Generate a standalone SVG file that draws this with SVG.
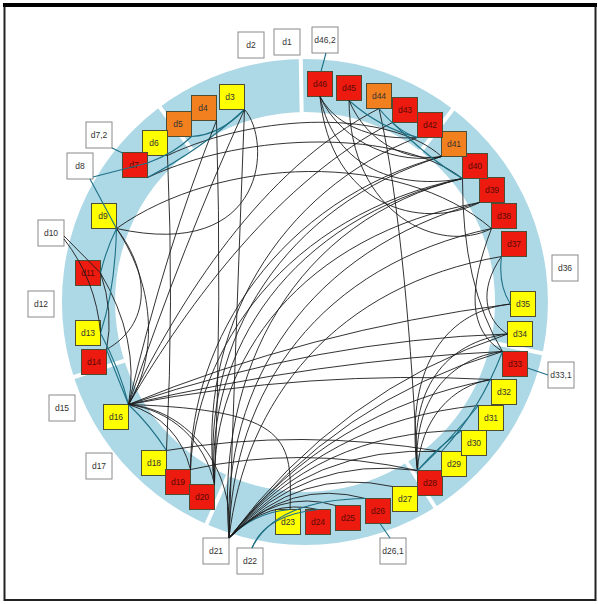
<svg xmlns="http://www.w3.org/2000/svg" width="598" height="604" viewBox="0 0 598 604">
<style>
  .e{fill:none;stroke:#1c1c1c;stroke-width:0.9}
  .tl{fill:none;stroke:#1e7185;stroke-width:1.1}
  .div{stroke:#fff;stroke-width:4}
  .n rect{stroke:#4d4d33;stroke-width:1}
  .y rect{fill:#ffff00}
  .r rect{fill:#ec1a0f}
  .o rect{fill:#f3801f}
  .lb rect{fill:#fff;stroke:#8a8a8a;stroke-width:1}
  text{font-family:"Liberation Sans",Arial,sans-serif;font-size:8.5px;fill:#333;text-anchor:middle}
  .r text{fill:#5a0a05}
</style>
<rect width="598" height="604" fill="#fff"/>
<!-- frame -->
<rect x="4.5" y="5" width="591" height="595" fill="none" stroke="#222" stroke-width="2"/>
<line x1="3" y1="5" x2="597" y2="5" stroke="#000" stroke-width="4"/>

<!-- ring with sector gaps -->
<g id="ring">
  <path d="M305,59 A243,243 0 1,1 304.9,59 Z M305,112 A190,190 0 1,0 305.1,112 Z" fill="#add8e6" fill-rule="evenodd"/>
  <line class="div" x1="301.7" y1="114" x2="300.7" y2="56"/>
  <line class="div" x1="192.7" y1="151.3" x2="158" y2="104.8"/>
  <line class="div" x1="419.5" y1="152.8" x2="454.8" y2="106.8"/>
  <line class="div" x1="488.8" y1="341.7" x2="545.4" y2="354"/>
  <line class="div" x1="405.7" y1="460.7" x2="436.8" y2="509.7"/>
  <line class="div" x1="228.8" y1="473.9" x2="205.3" y2="526.9"/>
  <line class="div" x1="126.2" y1="360.1" x2="71" y2="378"/>
</g>

<!-- nodes -->
<g id="d3" class="n y"><rect x="219.5" y="84.5" width="25" height="25"/><text x="230" y="100">d3</text></g>
<g id="d4" class="n o"><rect x="191.5" y="95.5" width="25" height="25"/><text x="203" y="111">d4</text></g>
<g id="d5" class="n o"><rect x="166.5" y="111.5" width="25" height="25"/><text x="178" y="127">d5</text></g>
<g id="d6" class="n y"><rect x="142.5" y="130.5" width="25" height="25"/><text x="154" y="146">d6</text></g>
<g id="d7" class="n r"><rect x="122.5" y="152.5" width="25" height="25"/><text x="134" y="168">d7</text></g>
<g id="d9" class="n y"><rect x="91.5" y="203.5" width="25" height="25"/><text x="103" y="219">d9</text></g>
<g id="d11" class="n r"><rect x="75.5" y="260.5" width="25" height="25"/><text x="88" y="276">d11</text></g>
<g id="d13" class="n y"><rect x="75.5" y="320.5" width="25" height="25"/><text x="88" y="336">d13</text></g>
<g id="d14" class="n r"><rect x="81.5" y="349.5" width="25" height="25"/><text x="94" y="365">d14</text></g>
<g id="d16" class="n y"><rect x="103.5" y="404.5" width="25" height="25"/><text x="116" y="420">d16</text></g>
<g id="d18" class="n y"><rect x="141.5" y="450.5" width="25" height="25"/><text x="154" y="466">d18</text></g>
<g id="d19" class="n r"><rect x="165.5" y="469.5" width="25" height="25"/><text x="178" y="485">d19</text></g>
<g id="d20" class="n r"><rect x="189.5" y="484.5" width="25" height="25"/><text x="202" y="500">d20</text></g>
<g id="d23" class="n y"><rect x="275.5" y="509.5" width="25" height="25"/><text x="288" y="525">d23</text></g>
<g id="d24" class="n r"><rect x="305.5" y="509.5" width="25" height="25"/><text x="318" y="525">d24</text></g>
<g id="d25" class="n r"><rect x="335.5" y="505.5" width="25" height="25"/><text x="348" y="521">d25</text></g>
<g id="d26" class="n r"><rect x="365.5" y="498.5" width="25" height="25"/><text x="378" y="514">d26</text></g>
<g id="d27" class="n y"><rect x="392.5" y="486.5" width="25" height="25"/><text x="405" y="502">d27</text></g>
<g id="d28" class="n r"><rect x="417.5" y="470.5" width="25" height="25"/><text x="430" y="486">d28</text></g>
<g id="d29" class="n y"><rect x="441.5" y="451.5" width="25" height="25"/><text x="454" y="467">d29</text></g>
<g id="d30" class="n y"><rect x="461.5" y="430.5" width="25" height="25"/><text x="474" y="446">d30</text></g>
<g id="d31" class="n y"><rect x="478.5" y="405.5" width="25" height="25"/><text x="491" y="421">d31</text></g>
<g id="d32" class="n y"><rect x="491.5" y="379.5" width="25" height="25"/><text x="504" y="395">d32</text></g>
<g id="d33" class="n r"><rect x="502.5" y="351.5" width="25" height="25"/><text x="515" y="367">d33</text></g>
<g id="d34" class="n y"><rect x="507.5" y="321.5" width="25" height="25"/><text x="520" y="337">d34</text></g>
<g id="d35" class="n y"><rect x="510.5" y="291.5" width="25" height="25"/><text x="523" y="307">d35</text></g>
<g id="d37" class="n r"><rect x="501.5" y="231.5" width="25" height="25"/><text x="514" y="247">d37</text></g>
<g id="d38" class="n r"><rect x="491.5" y="203.5" width="25" height="25"/><text x="504" y="219">d38</text></g>
<g id="d39" class="n r"><rect x="479.5" y="177.5" width="25" height="25"/><text x="492" y="193">d39</text></g>
<g id="d40" class="n r"><rect x="462.5" y="153.5" width="25" height="25"/><text x="475" y="169">d40</text></g>
<g id="d41" class="n o"><rect x="441.5" y="131.5" width="25" height="25"/><text x="454" y="147">d41</text></g>
<g id="d42" class="n r"><rect x="417.5" y="112.5" width="25" height="25"/><text x="430" y="128">d42</text></g>
<g id="d43" class="n r"><rect x="392.5" y="97.5" width="25" height="25"/><text x="405" y="113">d43</text></g>
<g id="d44" class="n o"><rect x="366.5" y="83.5" width="25" height="25"/><text x="379" y="99">d44</text></g>
<g id="d45" class="n r"><rect x="336.5" y="75.5" width="25" height="25"/><text x="349" y="91">d45</text></g>
<g id="d46" class="n r"><rect x="307.5" y="71.5" width="25" height="25"/><text x="320" y="87">d46</text></g>

<!-- outer labels -->
<g id="d1" class="lb"><rect x="274" y="29" width="26" height="26"/><text x="287" y="45">d1</text></g>
<g id="d2" class="lb"><rect x="238" y="32" width="26" height="26"/><text x="251" y="48">d2</text></g>
<g id="d46_2" class="lb"><rect x="312" y="27" width="26" height="26"/><text x="325" y="43">d46,2</text></g>
<g id="d7_2" class="lb"><rect x="86" y="122" width="26" height="26"/><text x="99" y="138">d7,2</text></g>
<g id="d8" class="lb"><rect x="67" y="153" width="26" height="26"/><text x="80" y="169">d8</text></g>
<g id="d10" class="lb"><rect x="38" y="220" width="26" height="26"/><text x="51" y="236">d10</text></g>
<g id="d12" class="lb"><rect x="28" y="291" width="26" height="26"/><text x="41" y="307">d12</text></g>
<g id="d15" class="lb"><rect x="49" y="395" width="26" height="26"/><text x="62" y="411">d15</text></g>
<g id="d17" class="lb"><rect x="86" y="453" width="26" height="26"/><text x="99" y="469">d17</text></g>
<g id="d21" class="lb"><rect x="203" y="538" width="26" height="26"/><text x="216" y="554">d21</text></g>
<g id="d22" class="lb"><rect x="237" y="548" width="26" height="26"/><text x="250" y="564">d22</text></g>
<g id="d26_1" class="lb"><rect x="380" y="538" width="26" height="26"/><text x="393" y="554">d26,1</text></g>
<g id="d33_1" class="lb"><rect x="548" y="362" width="26" height="26"/><text x="561" y="378">d33,1</text></g>
<g id="d36" class="lb"><rect x="552" y="255" width="26" height="26"/><text x="565" y="271">d36</text></g>

<!-- connectors -->
<g id="connectors">
  <!-- upper-left sector -->
  <path class="e" d="M244.5,109.5 C272,140 268,262 116.5,228.5"/>
  <path class="e" d="M216.5,120.5 Q222,300 214.5,484.5"/>
  <path class="e" d="M167.5,155.5 Q174,300 166.5,450.5"/>
  <path class="e" d="M244.5,109.5 Q236,330 229,538"/>
  <path class="e" d="M147.5,177.5 C250,130 400,130 462.5,178.5"/>
  <path class="e" d="M116.5,228.5 C220,155 400,150 491.5,228.5"/>
  <path class="e" d="M167.5,155.5 C260,112 390,110 441.5,156.5"/>
  <path class="tl" d="M244.5,109.5 Q200,150 147.5,177.5"/>
  <path class="tl" d="M244.5,109.5 Q220,135 191.5,136.5"/>
  <path class="tl" d="M112,148 L122.5,153"/>
  <path class="tl" d="M93,177 L147.5,163 Q175,153 191.5,136.5"/>
  <path class="tl" d="M90,179 L116.5,228.5"/>
  <!-- left sector -->
  <path class="e" d="M116.5,228.5 C152,275 150,325 106.5,349.5"/>
  <path class="e" d="M116.5,228.5 C158,290 156,360 128.5,404.5"/>
  <path class="e" d="M100.5,273 Q140,340 128.5,404.5"/>
  <path class="tl" d="M116.5,228.5 Q106,250 100.5,273"/>
  <path class="tl" d="M116.5,228.5 Q115,290 100.5,333"/>
  <path class="e" d="M100.5,273 Q114,312 106.5,349.5"/>
  <path class="tl" d="M100.5,333 Q120,370 128.5,404.5"/>
  <path class="tl" d="M106.5,349.5 L128.5,404.5"/>
  <path class="e" d="M64,236 L100.5,273"/>
  <path class="e" d="M64,239 Q96,280 100.5,333"/>
  <!-- d16 fan -->
  <path class="e" d="M128.5,404.5 C170,410 205,440 214.5,484.5"/>
  <path class="e" d="M128.5,404.5 C190,410 235,470 229,538"/>
  <path class="e" d="M128.5,404.5 Q178,420 190.5,469.5"/>
  <path class="tl" d="M128.5,404.5 Q150,425 166.5,450.5"/>
  <path class="e" d="M128.5,404.5 C292,410 292,440 290,509.5"/>
  <path class="e" d="M128.5,404.5 Q185,240 244.5,109.5"/>
  <path class="e" d="M128.5,404.5 Q165,250 216.5,120.5"/>
  <path class="e" d="M128.5,404.5 C180,300 260,170 379,108.5"/>
  <path class="e" d="M128.5,404.5 C190,300 280,180 392.5,122.5"/>
  <path class="e" d="M128.5,404.5 Q320,340 507.5,334"/>
  <path class="e" d="M128.5,404.5 Q310,330 510.5,304"/>
  <path class="e" d="M128.5,404.5 Q310,370 491.5,379.5"/>
  <path class="e" d="M128.5,404.5 Q320,360 502.5,351.5"/>
  <!-- central bundle -->
  <path class="e" d="M214.5,484.5 C205,350 290,220 462.5,178.5"/>
  <path class="e" d="M214.5,484.5 C212,360 300,235 479.5,202.5"/>
  <path class="e" d="M229,538 C222,380 310,250 479.5,202.5"/>
  <path class="e" d="M229,538 C232,390 320,265 491.5,228.5"/>
  <path class="e" d="M229,538 C215,370 295,220 462.5,178.5"/>
  <path class="e" d="M190.5,469.5 C190,340 280,200 441.5,156.5"/>
  <path class="e" d="M214.5,484.5 C200,340 285,205 441.5,156.5"/>
  <path class="e" d="M229,538 C245,400 335,285 501.5,256.5"/>
  <path class="e" d="M190.5,469.5 C195,350 285,215 462.5,178.5"/>
  <path class="e" d="M214.5,484.5 C195,330 280,190 417.5,137.5"/>
  <!-- d21 fan -->
  <path class="tl" d="M229,538 Q255,512 290,509.5"/>
  <path class="e" d="M229,538 Q268,498 318,509.5"/>
  <path class="e" d="M229,538 Q278,488 335.5,505.5"/>
  <path class="e" d="M229,538 Q290,478 365.5,498.5"/>
  <path class="e" d="M229,538 Q300,466 392.5,486.5"/>
  <path class="e" d="M229,538 Q305,455 417.5,470.5"/>
  <path class="e" d="M229,538 Q310,445 441.5,451.5"/>
  <path class="e" d="M229,538 Q318,432 461.5,430.5"/>
  <path class="e" d="M229,538 Q325,420 478.5,405.5"/>
  <path class="e" d="M229,538 Q330,410 491.5,379.5"/>
  <path class="e" d="M229,538 Q338,400 502.5,351.5"/>
  <path class="e" d="M229,538 Q340,390 507.5,334"/>
  <path class="tl" d="M252,548 Q265,515 318,509.5"/>
  <path class="tl" d="M252,548 Q275,500 365.5,498.5"/>
  <path class="tl" d="M390,538 L380,523.5"/>
  <!-- d28 group -->
  <path class="e" d="M417.5,470.5 C412,400 450,358 502.5,351.5"/>
  <path class="e" d="M417.5,470.5 C420,420 452,385 491.5,379.5"/>
  <path class="e" d="M417.5,470.5 C408,390 445,342 507.5,334"/>
  <path class="e" d="M417.5,470.5 C405,375 440,312 510.5,304"/>
  <path class="e" d="M417.5,470.5 C412,350 400,200 379,108.5"/>
  <path class="e" d="M166.5,450.5 Q300,428 441.5,451.5"/>
  <path class="e" d="M190.5,469.5 Q300,445 417.5,470.5"/>
  <path class="tl" d="M417.5,470.5 Q450,440 478.5,405.5"/>
  <path class="tl" d="M441.5,451.5 Q480,410 502.5,351.5"/>
  <path class="tl" d="M417.5,470.5 Q440,445 461.5,430.5"/>
  <!-- right sector -->
  <path class="e" d="M501.5,256.5 C478,290 485,320 507.5,334"/>
  <path class="tl" d="M501.5,256.5 Q498,285 510.5,304"/>
  <path class="e" d="M491.5,228.5 C468,290 468,330 502.5,351.5"/>
  <path class="e" d="M462.5,178.5 Q462,285 502.5,351.5"/>
  <path class="tl" d="M548,375 L527.5,368"/>
  <!-- upper-right sector -->
  <path class="tl" d="M326,53 L321,71.5"/>
  <path class="e" d="M320,96.5 C338,130 380,140 417.5,137.5"/>
  <path class="e" d="M320,96.5 C342,145 400,165 441.5,156.5"/>
  <path class="tl" d="M349,100.5 Q380,128 417.5,137.5"/>
  <path class="e" d="M349,100.5 C368,145 410,162 441.5,156.5"/>
  <path class="tl" d="M379,108.5 Q398,132 417.5,137.5"/>
  <path class="e" d="M320,96.5 C330,205 420,232 479.5,202.5"/>
  <path class="e" d="M349,100.5 C350,215 440,255 491.5,228.5"/>
  <path class="e" d="M320,96.5 C335,170 400,190 462.5,178.5"/>
  <path class="tl" d="M392.5,122.5 Q430,160 462.5,178.5"/>
</g>
</svg>
